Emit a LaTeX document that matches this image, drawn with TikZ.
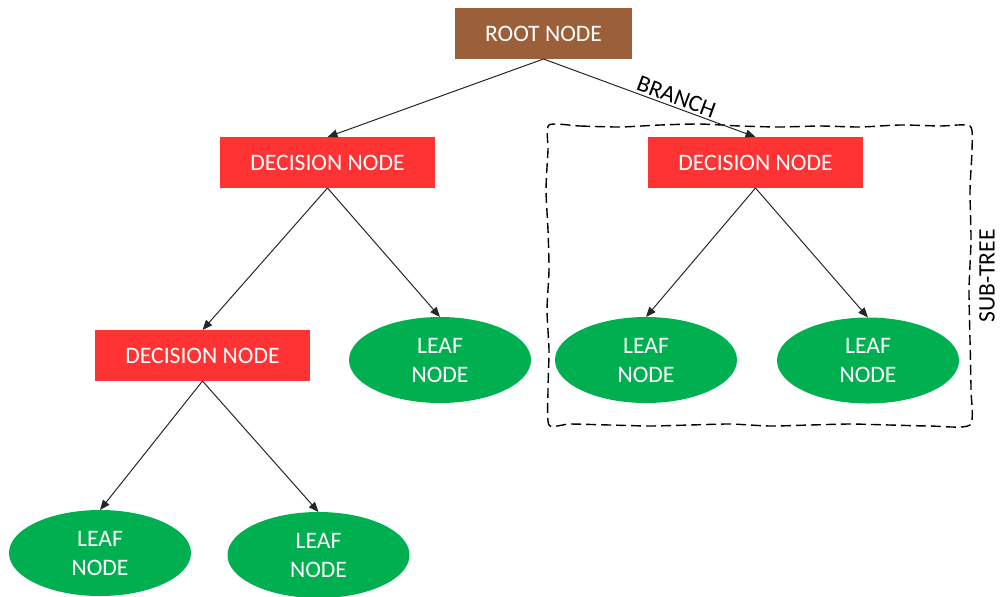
\documentclass[tikz,border=0pt]{standalone}
\usepackage{fontspec}
\setmainfont{Carlito}
\usetikzlibrary{arrows.meta,shapes.geometric}
\definecolor{rootc}{RGB}{155,96,58}
\definecolor{decc}{RGB}{255,51,51}
\definecolor{leafc}{RGB}{0,176,80}
\newcommand\lblfont{\fontsize{11.8}{14.5}\selectfont}
\begin{document}
\begin{tikzpicture}[x=0.5pt,y=-0.5pt,
  rootbox/.style={rectangle,fill=rootc,minimum width=88.5pt,minimum height=25.5pt,inner sep=0pt,outer sep=0pt,text=white,font=\lblfont},
  decbox/.style={rectangle,fill=decc,minimum width=107.5pt,minimum height=25.5pt,inner sep=0pt,outer sep=0pt,text=white,font=\lblfont},
  leaf/.style={ellipse,fill=leafc,minimum width=91pt,minimum height=43pt,inner sep=0pt,outer sep=0pt,text=white,font=\lblfont,align=center},
  conn/.style={line width=0.5pt,draw=black!85,-{Triangle[length=5pt,width=4pt]}},
  lbl/.style={font=\lblfont,text=black,inner sep=0pt},
  subtreebox/.style={line width=0.7pt,dash pattern=on 5pt off 2.5pt,draw=black}]
\useasboundingbox (0,0) rectangle (1000,596);
% sub-tree frame
\draw[subtreebox] plot[smooth cycle,tension=0.4] coordinates {
 (549,125) (580,126) (620,127) (660,125) (700,124) (740,126) (780,127) (820,126) (860,127) (900,125) (940,126) (970,126)
 (972,150) (970,190) (971,240) (969,290) (970,340) (971,390) (970,425)
 (930,426) (890,425) (850,424) (810,425) (770,426) (730,424) (690,425) (650,426) (610,425) (570,424) (549,425)
 (548,390) (549,350) (547,310) (549,270) (548,230) (546,190) (548,150)};
% nodes
\node[rootbox] (root) at (543.5,33.5) {ROOT NODE};
\node[decbox] (d1) at (327.5,162.5) {DECISION NODE};
\node[decbox] (d2) at (755.5,162.5) {DECISION NODE};
\node[decbox] (d3) at (202.5,355.5) {DECISION NODE};
\node[leaf] (l1) at (440,360) {LEAF\\NODE};
\node[leaf] (l2) at (646,360) {LEAF\\NODE};
\node[leaf] (l3) at (868,360.5) {LEAF\\NODE};
\node[leaf] (l4) at (100,553) {LEAF\\NODE};
\node[leaf] (l5) at (318.5,555) {LEAF\\NODE};
\node[lbl,rotate=90] (st) at (987,276) {SUB-TREE};
% connectors
\draw[conn] (root.south) -- (d1.north);
\draw[conn] (root.south) -- node[lbl,sloped,above=1pt,pos=0.61] (br) {BRANCH} (d2.north);
\draw[conn] (d1.south) -- (d3.north);
\draw[conn] (d1.south) -- (l1.north);
\draw[conn] (d2.south) -- (l2.north);
\draw[conn] (d2.south) -- (l3.north);
\draw[conn] (d3.south) -- (l4.north);
\draw[conn] (d3.south) -- (l5.north);
\end{tikzpicture}
\end{document}
